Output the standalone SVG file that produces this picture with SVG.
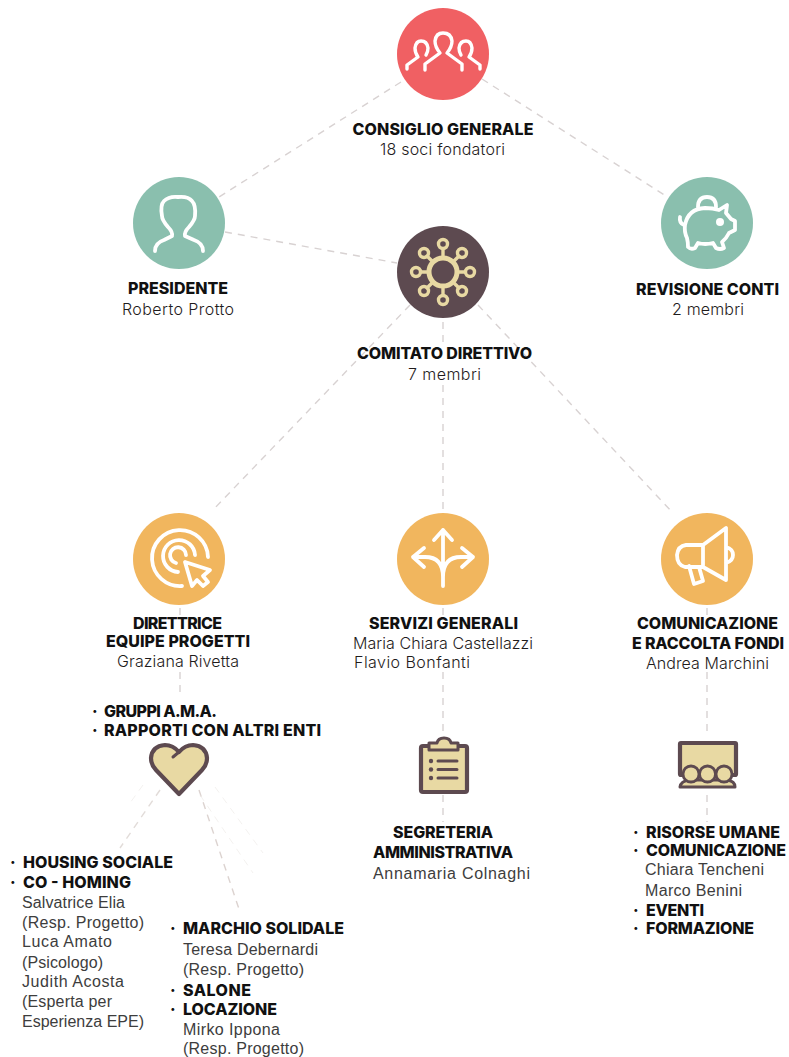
<svg xmlns="http://www.w3.org/2000/svg" width="789" height="1057" viewBox="0 0 789 1057">
<style>
text{font-family:"Inter","Lato","Liberation Sans",sans-serif;font-size:16px}
.b{font-weight:800;fill:#111}
.r{font-weight:300;fill:#1f1c1c}
.p{font-family:"Liberation Sans","Lato",sans-serif;font-weight:400;fill:#3d3d3d;font-size:16px}
.d{font-weight:800;fill:#111;text-anchor:middle}
.dash{fill:none;stroke:#d8d2d2;stroke-width:1.4;stroke-dasharray:7 6}
.faint{fill:none;stroke:#e9e5e2;stroke-width:1;stroke-dasharray:7 6;opacity:.55}
.w{fill:none;stroke:#fff;stroke-width:3.8;stroke-linecap:round;stroke-linejoin:round}
.c{fill:none;stroke:#e8d9a3;stroke-linecap:round}
.k{fill:#e8d9a3;stroke:#5d4a50;stroke-width:4.2;stroke-linejoin:round;stroke-linecap:round}
.h{fill:#e8d9a3;stroke:#5d4a50;stroke-width:2.8}
.l{fill:none;stroke:#5d4a50;stroke-width:3;stroke-linecap:round}
</style>
<rect width="789" height="1057" fill="#fff"/>
<g id="connectors">
<path class="dash" d="M401 82L219 197"/>
<path class="dash" d="M482 79L666 196"/>
<path class="dash" d="M225 232L397 263"/>
<path class="dash" d="M410 305L212 511"/>
<path class="dash" d="M443 322V344M443 385V510"/>
<path class="dash" d="M478 305L673 513"/>
<path class="dash" d="M180 608V615M180 672V698"/>
<path class="dash" d="M443 608V615M443 672V735M443 795V822"/>
<path class="dash" d="M707 608V615M707 672V735M707 795V822"/>
<path class="dash" style="stroke:#e2dcd9" d="M160 790L120 848"/>
<path class="dash" style="stroke:#dcd3d0" d="M199 790L240 912"/>
<path class="faint" d="M143 785L130 803M215 787L263 853M200 795L253 873"/>
</g>
<g id="consiglio">
<circle cx="443" cy="54" r="46" fill="#f06063"/>
<path class="w" style="stroke-width:3.400" d="M425 70V64L440 53Q435 47 435 41Q436 33 443 33Q451 33 452 41Q452 47 447 53L462 64V70M407 69V65L418 57Q415 53 415 48Q416 41 421 41Q427 41 428 48Q428 52 426 55M480 69V65L469 57Q472 53 472 48Q471 41 466 41Q460 41 459 48Q459 52 461 55"/>
<text class="d" x="443" y="135" textLength="181">CONSIGLIO GENERALE</text>
<text class="r" x="380" y="155" textLength="125">18 soci fondatori</text>
</g>
<g id="presidente">
<circle cx="179" cy="223" r="46" fill="#8abfae"/>
<path class="w" d="M155 251Q155 243 164 240L172 236Q173 232 168 227Q162 220 162 216Q160 205 164 201Q169 196 178 197Q188 196 192 201Q196 205 195 216Q195 220 189 227Q184 232 185 236L194 240Q203 243 203 251"/>
<text class="d" x="178" y="294" textLength="100">PRESIDENTE</text>
<text class="r" x="122" y="315" textLength="112">Roberto Protto</text>
</g>
<g id="revisione">
<circle cx="707" cy="223" r="46" fill="#8abfae"/>
<path class="w" d="M698 207Q698 197 707 197Q716 197 716 207"/>
<path class="w" d="M688 247Q688 242 687 238Q684 232 685 225Q688 209 705 208Q713 208 719 210L727 205L726 213L731 219L735 221V230L729 233Q726 239 722 242L724 248Q720 250 716 248L713 243Q705 245 698 243L695 248Q691 250 688 247ZM684 225Q679 223 680 217"/>
<circle cx="720" cy="222" r="4" fill="#fff"/>
<text class="d" x="707.500" y="295" textLength="143">REVISIONE CONTI</text>
<text class="r" x="672" y="315" textLength="72">2 membri</text>
</g>
<g id="comitato">
<circle cx="443" cy="272" r="46" fill="#5d4a50"/>
<circle class="c" cx="443" cy="272" r="14" stroke-width="5"/>
<g class="c" stroke-width="3.400">
<circle cx="443" cy="244" r="4.500"/><circle cx="443" cy="300" r="4.500"/><circle cx="416" cy="272" r="4.500"/><circle cx="470" cy="272" r="4.500"/>
<circle cx="424" cy="253" r="4.500"/><circle cx="462" cy="253" r="4.500"/><circle cx="424" cy="291" r="4.500"/><circle cx="462" cy="291" r="4.500"/>
<path d="M443 249V257M443 287V295M421 272H428M458 272H465M427 256L433 262M459 256L453 262M427 288L433 282M459 288L453 282"/>
</g>
<text class="d" x="444.500" y="359" textLength="175">COMITATO DIRETTIVO</text>
<text class="r" x="408" y="380" textLength="73">7 membri</text>
</g>
<g id="direttrice">
<circle cx="179" cy="559" r="46" fill="#f1b65e"/>
<path class="w" d="M182 586A28 28 0 1 1 208 557M178 572A16 16 0 1 1 195 555M176 563A8 8 0 1 1 186 555"/>
<path class="w" style="fill:#f1b65e" d="M185 562L210 570L203 576L208 582L203 586L197 580L192 586Z"/>
<text class="d" x="177.500" y="629" textLength="89">DIRETTRICE</text>
<text class="d" x="178" y="647" textLength="144">EQUIPE PROGETTI</text>
<text class="r" x="117" y="667" textLength="122">Graziana Rivetta</text>
</g>
<g id="servizi">
<circle cx="443" cy="559" r="46" fill="#f1b65e"/>
<path class="w" d="M443 586V530M434 540L443 530L452 540M413 557H425Q443 557 443 577M473 557H461Q443 557 443 577M424 548L413 557L424 567M462 548L473 557L462 567"/>
<text class="d" x="443.500" y="629" textLength="149">SERVIZI GENERALI</text>
<text class="r" x="353" y="649" textLength="180">Maria Chiara Castellazzi</text>
<text class="r" x="354" y="668" textLength="116">Flavio Bonfanti</text>
</g>
<g id="comunicazione">
<circle cx="707" cy="559" r="46" fill="#f1b65e"/>
<path class="w" d="M726 528V580L703 567H685Q677 565 677 555Q678 546 686 545H703ZM703 545V567M689 566L694 584L703 581L699 567M726 547Q733 549 733 555Q733 561 726 563"/>
<text class="d" x="707.500" y="629" textLength="141">COMUNICAZIONE</text>
<text class="d" x="708" y="649" textLength="152">E RACCOLTA FONDI</text>
<text class="r" x="646" y="669" textLength="123">Andrea Marchini</text>
</g>
<g id="ama">
<text class="b" x="92" y="717">·</text><text class="b" x="104" y="717" textLength="113">GRUPPI A.M.A.</text>
<text class="b" x="92" y="736">·</text><text class="b" x="104" y="736" textLength="217">RAPPORTI CON ALTRI ENTI</text>
<path class="k" d="M179 794L156 770Q151 765 151 758Q152 746 165 745Q173 745 179 752Q185 745 193 745Q206 746 207 758Q207 765 202 770Z"/>
<path class="l" d="M173 757L179 752"/>
</g>
<g id="segreteria">
<rect class="k" x="421" y="746" width="46" height="46" rx="2"/>
<path class="k" style="stroke-width:3" d="M437 743Q438 738 444 738Q450 738 451 743H458V750H429V743Z"/>
<path class="l" d="M438 761H457M438 769.500H457M438 778H457"/>
<circle cx="431" cy="761" r="2.200" fill="#5d4a50"/><circle cx="431" cy="769.500" r="2.200" fill="#5d4a50"/><circle cx="431" cy="778" r="2.200" fill="#5d4a50"/>
<text class="d" x="443" y="838" textLength="100">SEGRETERIA</text>
<text class="d" x="443" y="858" textLength="140">AMMINISTRATIVA</text>
<text class="p" x="373" y="879" textLength="157">Annamaria Colnaghi</text>
</g>
<g id="risorse">
<rect class="k" x="680" y="743" width="56" height="32" rx="1"/>
<path class="k" style="stroke-width:3" d="M680 787Q681 781 689 780H727Q735 781 735 787Z"/>
<circle class="h" cx="691" cy="774" r="8"/><circle class="h" cx="707.500" cy="774" r="8"/><circle class="h" cx="724" cy="774" r="8"/>
<text class="b" x="633" y="838">·</text><text class="b" x="646" y="838" textLength="134">RISORSE UMANE</text>
<text class="b" x="633" y="856">·</text><text class="b" x="646" y="856" textLength="140">COMUNICAZIONE</text>
<text class="p" x="645" y="875" textLength="119">Chiara Tencheni</text>
<text class="p" x="645" y="896" textLength="97">Marco Benini</text>
<text class="b" x="633" y="916">·</text><text class="b" x="646" y="916" textLength="58">EVENTI</text>
<text class="b" x="633" y="934">·</text><text class="b" x="646" y="934" textLength="108">FORMAZIONE</text>
</g>
<g id="housing">
<text class="b" x="10" y="868">·</text><text class="b" x="23" y="868" textLength="150">HOUSING SOCIALE</text>
<text class="b" x="10" y="888">·</text><text class="b" x="23" y="888" textLength="108">CO - HOMING</text>
<text class="p" x="22" y="908" textLength="103">Salvatrice Elia</text>
<text class="p" x="22" y="928" textLength="122">(Resp. Progetto)</text>
<text class="p" x="22" y="947" textLength="90">Luca Amato</text>
<text class="p" x="22" y="968" textLength="81">(Psicologo)</text>
<text class="p" x="22" y="987" textLength="102">Judith Acosta</text>
<text class="p" x="22" y="1007" textLength="90">(Esperta per</text>
<text class="p" x="22" y="1027" textLength="122">Esperienza EPE)</text>
</g>
<g id="marchio">
<text class="b" x="170" y="934">·</text><text class="b" x="183" y="934" textLength="161">MARCHIO SOLIDALE</text>
<text class="p" x="183" y="955" textLength="135">Teresa Debernardi</text>
<text class="p" x="183" y="975" textLength="121">(Resp. Progetto)</text>
<text class="b" x="170" y="996">·</text><text class="b" x="183" y="996" textLength="68">SALONE</text>
<text class="b" x="170" y="1015">·</text><text class="b" x="183" y="1015" textLength="94">LOCAZIONE</text>
<text class="p" x="183" y="1035" textLength="97">Mirko Ippona</text>
<text class="p" x="183" y="1054" textLength="121">(Resp. Progetto)</text>
</g>
</svg>
